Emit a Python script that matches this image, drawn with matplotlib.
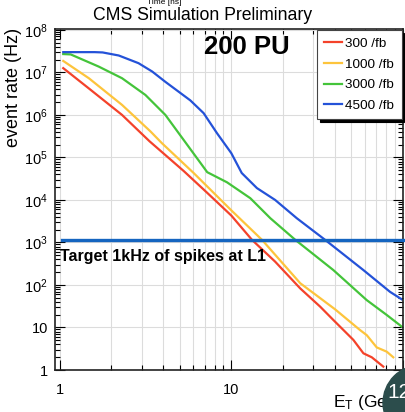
import matplotlib
matplotlib.use('Agg')
import matplotlib.pyplot as plt
from matplotlib.patches import Circle
from matplotlib.transforms import IdentityTransform
from matplotlib.ticker import FixedLocator, FixedFormatter, LogLocator, NullFormatter

plt.rcParams['font.family'] = ['Liberation Sans', 'DejaVu Sans']
plt.rcParams['mathtext.fontset'] = 'custom'
plt.rcParams['mathtext.rm'] = 'Liberation Sans'
plt.rcParams['mathtext.it'] = 'Liberation Sans:italic'

# E_T (GeV) vs event rate (Hz)
e_300 = [1.05, 1.48, 2.31, 3.34, 5.28, 7.2, 10.0, 13.2, 18.0, 25.2, 32.9, 39.3, 51.4, 58.8, 65.8, 76.8]
r_300 = [1.26e7, 4.2e6, 1.0e6, 2.4e5, 4.8e4, 1.5e4, 4.3e3, 1.15e3, 354, 83, 31, 15, 5.1, 2.47, 1.99, 1.2]

e_1000 = [1.05, 1.48, 2.31, 3.38, 3.95, 6.0, 10.0, 15.1, 25.2, 40.2, 56.2, 61.5, 70.3, 80.4, 87.8]
r_1000 = [1.86e7, 7.3e6, 1.72e6, 4.1e5, 2.15e5, 4.4e4, 5.7e3, 1.15e3, 110, 26.8, 8.7, 6.6, 3.4, 2.7, 1.99]

e_3000 = [1.05, 1.16, 1.69, 2.31, 3.16, 4.13, 5.2, 7.24, 9.44, 12.9, 16.9, 23.6, 39.3, 61.5, 80.4, 98.3]
r_3000 = [2.7e7, 2.65e7, 1.37e7, 7.3e6, 2.95e6, 1.0e6, 2.8e5, 4.5e4, 2.6e4, 1.1e4, 3.7e3, 1.15e3, 224, 44, 19.7, 10.5]

e_4500 = [1.05, 1.6, 1.78, 2.21, 2.88, 3.46, 4.13, 5.77, 6.9, 8.26, 10.0, 11.5, 14.1, 18.0, 24.1, 35.2, 58.8, 84.0, 98.3]
r_4500 = [3.0e7, 3.0e7, 2.95e7, 2.5e7, 1.65e7, 1.05e7, 6.0e6, 2.2e6, 1.1e6, 3.7e5, 1.26e5, 4.3e4, 1.9e4, 1.0e4, 3.7e3, 1.15e3, 224, 69, 46]

labels = ['300 /fb', '1000 /fb', '3000 /fb', '4500 /fb']
colors = ['#f4422a', '#fdc43c', '#44c43a', '#2452d8']
target = 1.15e3

fig = plt.figure(figsize=(4.06, 4.12), dpi=100)
ax = fig.add_axes([55/406, 1-370/412, 348/406, 341/412])

for e, r, lab, c in zip([e_300, e_1000, e_3000, e_4500], [r_300, r_1000, r_3000, r_4500], labels, colors):
    ax.plot(e, r, color=c, lw=1.6, label=lab)

ax.set_xscale('log')
ax.set_yscale('log')
ax.set_xlim(0.94, 100)
ax.set_ylim(1, 1.05e8)

ax.xaxis.set_major_locator(FixedLocator([1, 10, 100]))
ax.xaxis.set_major_formatter(FixedFormatter(['1', '10', '']))
ax.xaxis.set_minor_locator(LogLocator(base=10, subs=range(2, 10)))
ax.xaxis.set_minor_formatter(NullFormatter())
yt = [1, 10, 1e2, 1e3, 1e4, 1e5, 1e6, 1e7, 1e8]
ax.yaxis.set_major_locator(FixedLocator(yt))
ax.yaxis.set_major_formatter(FixedFormatter(['1', '10'] + ['$10^{%d}$' % k for k in range(2, 9)]))
ax.yaxis.set_minor_locator(LogLocator(base=10, subs=range(2, 10)))
ax.yaxis.set_minor_formatter(NullFormatter())

ax.grid(True, which='both', axis='x', color='#dcdcdc', lw=0.8)
ax.grid(True, which='major', axis='y', color='#dcdcdc', lw=0.8)
ax.tick_params(which='both', direction='in', top=True, right=True, labelsize=10.5, width=0.8)
ax.tick_params(which='major', length=7)
ax.tick_params(which='minor', length=3.5)
ax.tick_params(axis='y', pad=5)
ax.tick_params(axis='x', pad=9)
for s in ax.spines.values():
    s.set_linewidth(1.2)
    s.set_color('#222222')

leg = ax.legend(loc='upper right', fontsize=9.7, frameon=True, fancybox=False,
                shadow={'color': 'black', 'alpha': 1.0}, borderaxespad=0.1,
                handlelength=1.3, handletextpad=0.25, labelspacing=0.6, borderpad=0.55)
leg.get_frame().set_edgecolor('#444444')
leg.get_frame().set_linewidth(0.8)

ax.axhline(target, xmin=0.02, xmax=1.03, color='#1565c0', lw=2.4, clip_on=False, zorder=5)
ax.text(0.014, 0.332, 'Target 1kHz of spikes at L1', transform=ax.transAxes,
        fontsize=11.5, fontweight='bold', va='center', ha='left')
ax.text(0.552, 0.947, '200 PU', transform=ax.transAxes, fontsize=18.5,
        fontweight='bold', va='center', ha='center')

fig.text(203/406, 1-15/412, 'CMS Simulation Preliminary', fontsize=12.7, ha='center', va='center')
fig.text(164/406, 1-2/412, 'Time [ns]', fontsize=6, ha='center', va='center')
fig.text(14/406, 1-87/412, 'event rate (Hz)', fontsize=13, rotation=90, ha='center', va='center')
fig.text(333/406, 1-402/412, 'E$_\\mathrm{T}$ (GeV)', fontsize=12.5, ha='left', va='center')

fig.add_artist(Circle((421, 412-403), 38, transform=IdentityTransform(), color='#2c4d4c', zorder=10))
fig.text(387/406, 1-392/412, '12', fontsize=15, color='white', ha='left', va='center', zorder=11)

fig.savefig('out.png', dpi=100)
